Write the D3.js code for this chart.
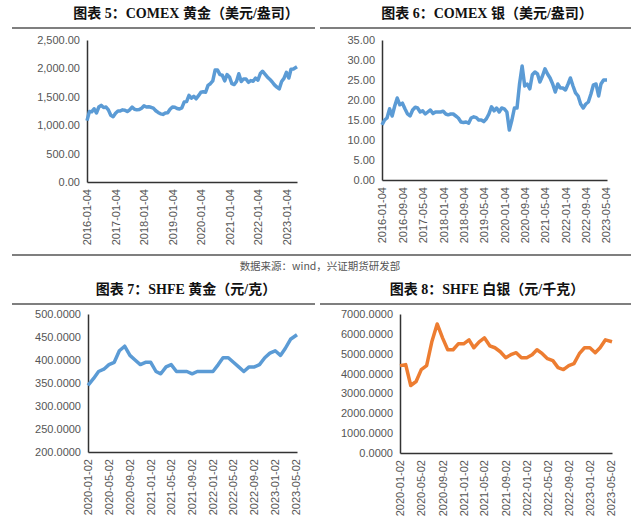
<!DOCTYPE html>
<html><head><meta charset="utf-8">
<script src="https://cdn.jsdelivr.net/npm/d3@7"></script>
<style>body{margin:0;background:#fff}svg{display:block}</style></head>
<body><svg id="c" width="639" height="524"></svg>
<script>
const titles = ["图表 5：COMEX 黄金（美元/盎司）","图表 6：COMEX 银（美元/盎司）","图表 7：SHFE 黄金（元/克）","图表 8：SHFE 白银（元/千克）"];
const source = "数据来源：wind，兴证期货研发部";
const goldComex = [1080,1240,1235,1290,1215,1320,1350,1310,1320,1270,1175,1150,
1210,1250,1250,1270,1265,1240,1270,1320,1280,1270,1275,1300,
1340,1320,1325,1315,1300,1255,1225,1200,1190,1215,1220,1280,
1320,1315,1295,1285,1305,1410,1415,1525,1475,1510,1465,1520,
1580,1590,1580,1700,1730,1780,1970,1970,1890,1880,1780,1890,
1850,1730,1715,1770,1905,1770,1815,1815,1755,1785,1775,1830,
1795,1910,1950,1900,1850,1810,1765,1710,1670,1640,1770,1825,
1930,1830,1985,1990,2030];
const silverComex = [13.8,15.0,15.5,17.8,16.0,18.5,20.5,18.8,19.2,17.8,16.5,16.0,
17.5,18.2,18.0,17.0,17.3,16.5,17.0,17.5,16.6,17.0,17.0,17.0,
17.2,16.5,16.3,16.5,16.5,16.0,15.5,14.5,14.4,14.5,14.2,15.5,
15.8,15.6,15.0,15.0,14.6,15.3,16.5,18.3,17.3,18.0,17.0,18.0,
17.8,17.0,12.5,15.0,18.0,18.0,24.0,28.5,23.5,24.0,22.8,26.3,
27.0,26.5,24.5,26.0,27.8,26.5,25.5,24.0,22.0,24.0,23.0,23.0,
22.5,24.0,25.5,23.5,21.8,21.0,19.0,18.0,19.0,19.5,21.5,23.8,
24.0,21.0,24.0,25.0,25.0];
const goldShfe = [345,360,375,380,390,395,420,430,410,400,390,395,
395,375,370,385,390,375,375,375,370,375,375,375,
375,390,405,405,395,385,375,385,385,390,405,415,
420,410,425,445,455];
const silverShfe = [4400,4450,3400,3600,4200,4400,5600,6500,5800,5200,5200,5500,
5500,5700,5300,5600,5800,5400,5300,5100,4800,4950,5050,4800,
4800,4950,5200,5000,4750,4650,4300,4200,4400,4500,5000,5300,
5300,5050,5300,5700,5600];
const ticks5 = ["2016-01-04","2017-01-04","2018-01-04","2019-01-04","2020-01-04","2021-01-04","2022-01-04","2023-01-04"];
const ticks6 = ["2016-01-04","2016-09-04","2017-05-04","2018-01-04","2018-09-04","2019-05-04","2020-01-04","2020-09-04","2021-05-04","2022-01-04","2022-09-04","2023-05-04"];
const ticks78 = ["2020-01-02","2020-05-02","2020-09-02","2021-01-02","2021-05-02","2021-09-02","2022-01-02","2022-05-02","2022-09-02","2023-01-02","2023-05-02"];

const svg = d3.select("#c");
const P = d3.timeParse("%Y-%m-%d");
function monthly(vals, y0, start, end){
  return vals.map((v,i)=>{
    let d = new Date(y0, i, 4);
    if(i===0) d = P(start);
    if(i===vals.length-1) d = P(end);
    return {d, v};
  });
}
function chart(o){
  const x = d3.scaleTime().domain([P(o.start),P(o.end)]).range([o.x0,o.x1]);
  const y = d3.scaleLinear().domain([0,o.max]).range([o.y1,o.y0]);
  if(o.min!==undefined) y.domain([o.min,o.max]);
  const g = svg.append("g");
  g.append("text").attr("x",o.tx).attr("y",o.ty).attr("text-anchor","middle")
   .attr("font-family","Liberation Serif, Noto Sans CJK SC").attr("font-weight","bold").attr("font-size",14).attr("fill","#111").text(o.title);
  g.append("line").attr("x1",o.lx0).attr("x2",o.lx1).attr("y1",o.ty+10).attr("y2",o.ty+10).attr("stroke","#000").attr("stroke-width",1.2);
  const ya = g.append("g").attr("transform",`translate(${o.x0},0)`).call(d3.axisLeft(y).tickValues(o.yt).tickSize(0).tickPadding(7).tickFormat(d3.format(o.fmt)));
  ya.select(".domain").attr("stroke","#333").attr("stroke-width",1.5);
  ya.selectAll("text").attr("font-family","Liberation Sans, Arial").attr("font-size",11).attr("fill","#555");
  const xa = g.append("g").attr("transform",`translate(0,${o.y1})`).call(d3.axisBottom(x).tickValues(o.xt.map(P)).tickSize(0).tickFormat(d3.timeFormat("%Y-%m-%d")));
  xa.select(".domain").attr("stroke","#333").attr("stroke-width",1.5);
  xa.selectAll("text").attr("font-family","Liberation Sans, Arial").attr("font-size",11).attr("fill","#555")
    .attr("transform","rotate(-90)").attr("text-anchor","end").attr("dx","-7").attr("dy","0.35em").attr("y",0);
  const data = monthly(o.data,o.y0yr,o.start,o.end);
  g.append("path").datum(data).attr("fill","none").attr("stroke",o.color).attr("stroke-width",3.5).attr("stroke-linejoin","round")
   .attr("d",d3.line().x(d=>x(d.d)).y(d=>y(d.v)));
}
chart({title:titles[0],tx:186,ty:18,lx0:12,lx1:315,x0:87,x1:297,y0:40,y1:182,max:2500,yt:d3.range(0,2501,500),fmt:",.2f",
  start:"2016-01-04",end:"2023-05-20",xt:ticks5,data:goldComex,y0yr:2016,color:"#5b9bd5"});
chart({title:titles[1],tx:487,ty:18,lx0:320,lx1:631,x0:382,x1:607,y0:40,y1:180,max:35,yt:d3.range(0,36,5),fmt:".2f",
  start:"2016-01-04",end:"2023-05-15",xt:ticks6,data:silverComex,y0yr:2016,color:"#5b9bd5"});
chart({title:titles[2],tx:186,ty:294,lx0:12,lx1:315,x0:88,x1:297,y0:314,y1:452,min:200,max:500,yt:d3.range(200,501,50),fmt:".4f",
  start:"2020-01-02",end:"2023-05-12",xt:ticks78,data:goldShfe,y0yr:2020,color:"#5b9bd5"});
chart({title:titles[3],tx:487,ty:294,lx0:320,lx1:631,x0:400,x1:612,y0:314,y1:453,max:7000,yt:d3.range(0,7001,1000),fmt:".4f",
  start:"2020-01-02",end:"2023-05-12",xt:ticks78,data:silverShfe,y0yr:2020,color:"#ed7d31"});
svg.append("line").attr("x1",12).attr("x2",631).attr("y1",255).attr("y2",255).attr("stroke","#000").attr("stroke-width",1.2);
svg.append("text").attr("x",320).attr("y",270).attr("text-anchor","middle").attr("font-family","Noto Sans CJK SC").attr("font-size",10.5).attr("fill","#555").text(source);
</script></body></html>
